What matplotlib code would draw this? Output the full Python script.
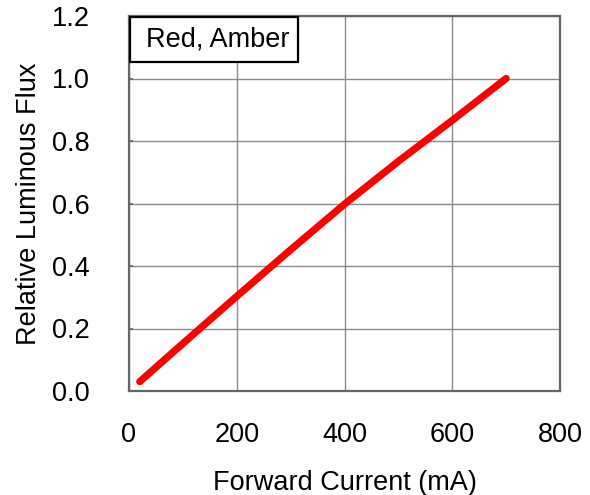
import matplotlib
matplotlib.use("Agg")
import matplotlib.pyplot as plt
from matplotlib.patches import Rectangle

plt.rcParams['font.family'] = ['Liberation Sans', 'DejaVu Sans']

# values
current_mA = [20, 100, 200, 300, 400, 500, 600, 700]
rel_flux = [0.03, 0.152, 0.303, 0.452, 0.598, 0.735, 0.866, 1.0]

xticks = [0, 200, 400, 600, 800]
yticks = [0.0, 0.2, 0.4, 0.6, 0.8, 1.0, 1.2]
legend_label = "Red, Amber"

fs = 19.5

fig = plt.figure(figsize=(5.9, 4.95), dpi=100)
ax = fig.add_axes([129/590, 1-391/495, 431/590, 375/495])

ax.plot(current_mA, rel_flux, color='#ff0000', lw=5.2, solid_capstyle='round',
        solid_joinstyle='round', zorder=3)

ax.set_xlim(0, 800)
ax.set_ylim(0, 1.2)
ax.set_xticks(xticks)
ax.set_yticks(yticks)
ax.set_yticklabels(['{0:.1f}'.format(v) for v in yticks])
ax.grid(True, color='#8c8c8c', lw=1.0)
ax.set_axisbelow(True)

for sp in ax.spines.values():
    sp.set_color('#666666')
    sp.set_linewidth(1.6)

ax.tick_params(axis='x', length=0, pad=22, labelsize=fs)
ax.tick_params(axis='y', direction='in', length=3, width=1.2, color='#666666',
               pad=28, labelsize=fs)

ax.set_xlabel("Forward Current (mA)", fontsize=fs, labelpad=16)
ax.set_ylabel("Relative Luminous Flux", fontsize=fs, labelpad=7)

# boxed series label in the top-left corner
ax.add_patch(Rectangle((0.002, 0.877), 0.39, 0.12, transform=ax.transAxes,
                       facecolor='white', edgecolor='black', lw=1.6, zorder=4))
ax.text(0.205, 0.936, legend_label, transform=ax.transAxes, fontsize=fs,
        ha='center', va='center', zorder=5)

fig.savefig("out.png", dpi=100)
